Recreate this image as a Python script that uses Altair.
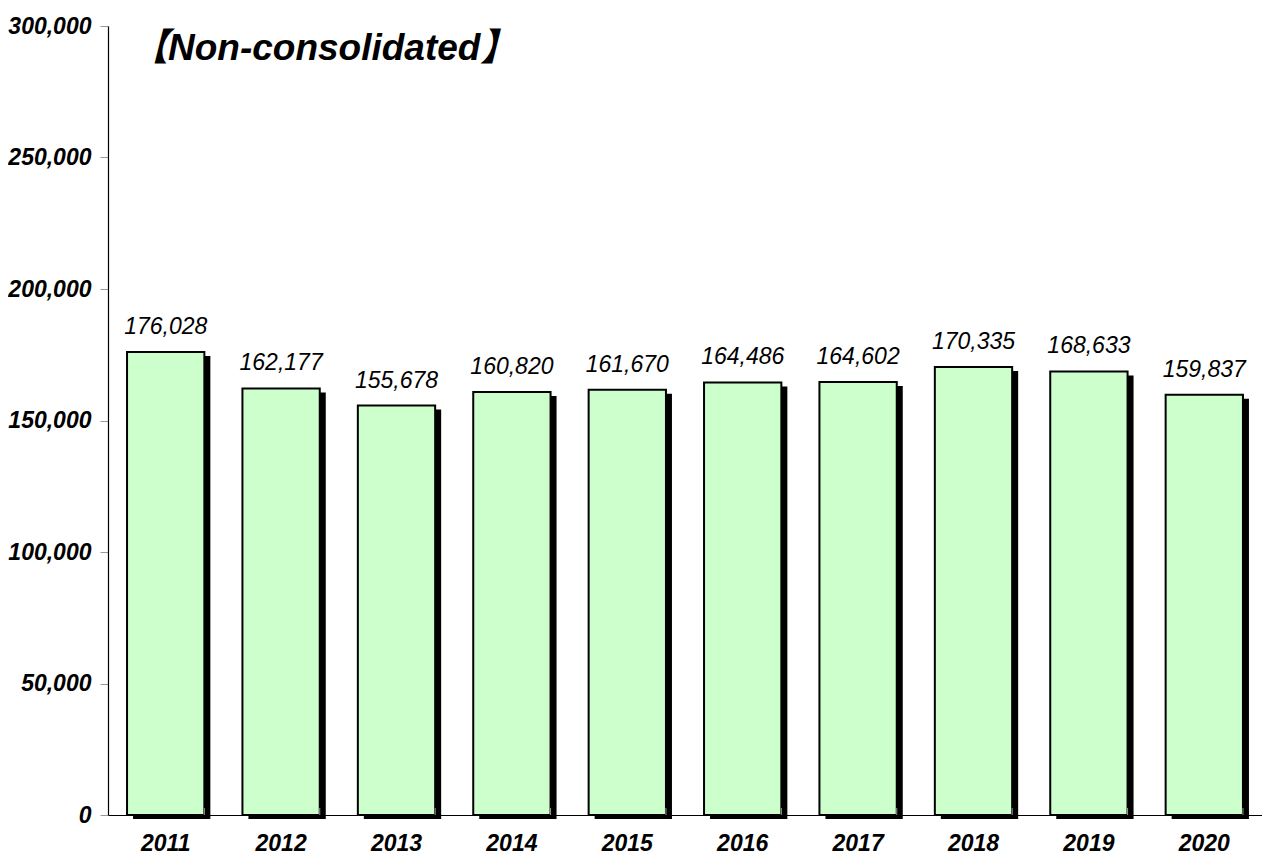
import altair as alt
import pandas as pd

years = ["2011", "2012", "2013", "2014", "2015", "2016", "2017", "2018", "2019", "2020"]
values = [176028, 162177, 155678, 160820, 161670, 164486, 164602, 170335, 168633, 159837]
title_text = "【Non-consolidated】"

df = pd.DataFrame({"year": years, "value": values})
df["label"] = [f"{v:,}" for v in values]

W, H = 1154, 789
FONT = "Liberation Sans, Noto Sans CJK JP"

x = alt.X("year:N", sort=years, title=None,
          scale=alt.Scale(paddingInner=0.33, paddingOuter=0.165),
          axis=alt.Axis(labelFont=FONT, labelFontSize=23, labelFontWeight="bold",
                        labelFontStyle="italic", labelAngle=0, labelColor="black",
                        ticks=False, labelPadding=17, domainColor="black", domainWidth=1.2))
y = alt.Y("value:Q", title=None,
          scale=alt.Scale(domain=[0, 300000], nice=False),
          axis=alt.Axis(values=[0, 50000, 100000, 150000, 200000, 250000, 300000],
                        format=",d", grid=False, tickColor="#999999", tickSize=8,
                        labelFont=FONT, labelFontSize=23, labelFontWeight="bold",
                        labelFontStyle="italic", labelColor="black", labelPadding=9,
                        domainColor="black", domainWidth=1.2))

base = alt.Chart(df)

shadow = base.mark_bar(color="black", xOffset=6, x2Offset=6, yOffset=4, y2Offset=-4).encode(x=x, y=y)
bars = base.mark_bar(color="#CCFFCC", stroke="black", strokeWidth=2).encode(x=x, y=y)
labels = base.mark_text(font=FONT, fontSize=23, fontStyle="italic", dy=-13,
                        baseline="bottom", color="black").encode(x=x, y=y, text="label:N")
xticks = base.mark_rule(color="#999999", strokeWidth=1).encode(
    x=alt.X("year:N", sort=years, bandPosition=1),
    y=alt.value(H - 7), y2=alt.value(H))
title = alt.Chart(pd.DataFrame({"t": [title_text]})).mark_text(
    font=FONT, fontSize=37, fontStyle="italic", fontWeight="bold", align="left",
    baseline="middle", color="black"
).encode(x=alt.value(23), y=alt.value(23), text="t:N")

chart = alt.layer(shadow, bars, labels, xticks, title).properties(
    width=W, height=H, padding={"left": 100, "top": 18, "right": 0, "bottom": 50},
    autosize=alt.AutoSizeParams(type="none")
).configure_view(stroke=None)

chart.save("out.html", embed_options={"renderer": "svg", "actions": False})
